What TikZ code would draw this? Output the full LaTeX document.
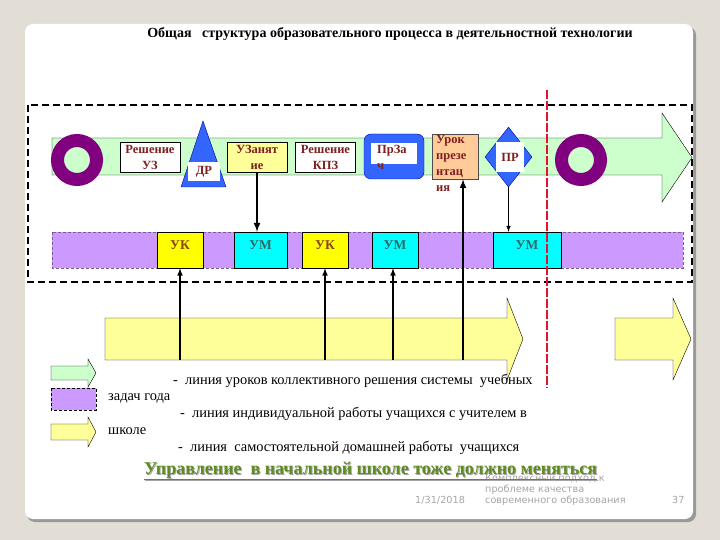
\documentclass[tikz,border=0pt]{standalone}
\usepackage{fontspec}
\setmainfont{Liberation Serif}
\newfontfamily\footfont{DejaVu Sans}
\usetikzlibrary{arrows,shapes.geometric}
\definecolor{slidebg}{HTML}{E3DED5}
\definecolor{bandgreen}{HTML}{CCFFCC}
\definecolor{lilac}{HTML}{CC99FF}
\definecolor{ringpurple}{HTML}{800080}
\definecolor{boxblue}{HTML}{3366FF}
\definecolor{uzyellow}{HTML}{FFFF99}
\definecolor{ukyellow}{HTML}{FFFF00}
\definecolor{umcyan}{HTML}{00FFFF}
\definecolor{lessonorange}{HTML}{FFCC99}
\definecolor{taskred}{HTML}{7F1F1F}
\definecolor{ukbrown}{HTML}{8B4513}
\definecolor{umteal}{HTML}{2F6B6B}
\definecolor{motto}{HTML}{5E8C1E}
\definecolor{footgray}{HTML}{A6A6A6}
\definecolor{cutred}{HTML}{E8112D}
\tikzstyle{task}=[draw,fill=white,inner sep=0pt,minimum width=60pt,minimum height=30pt]
\tikzstyle{tasktext}=[font=\bfseries\fontsize{12.5}{16}\selectfont,text=taskred,align=center,inner sep=0pt]
\tikzstyle{ring}=[circle,draw=ringpurple,line width=13pt,minimum size=39pt,inner sep=0pt]
\tikzstyle{slot}=[draw,inner sep=0pt,minimum height=36pt,text depth=10pt,font=\bfseries\fontsize{13.5}{15}\selectfont]
\tikzstyle{legendtext}=[anchor=base west,inner sep=0pt,font=\fontsize{14.4}{16}\selectfont]
\tikzstyle{foottext}=[anchor=base west,inner sep=0pt,text=footgray,font=\footfont\fontsize{9.7}{11}\selectfont]

\begin{document}
\begin{tikzpicture}[x=1pt,y=-1pt]
\fill[slidebg] (0,0) rectangle (720,540);
\fill[black!40,rounded corners=8pt] (27,27) rectangle (696,522);
\fill[white,rounded corners=8pt] (25,24) rectangle (693,519);

\node[font=\bfseries\fontsize{14}{16}\selectfont,anchor=base,inner sep=0pt] (title) at (390,38)
	{Общая \ \ структура образовательного процесса в деятельностной технологии};

% line of collective lessons
\draw[fill=bandgreen] (52,138) -- (662,138) -- (662,113) -- (692,157.5) -- (662,202)
	-- (662,175) -- (52,175) -- cycle;
\draw[line width=2pt,dash pattern=on 7pt off 4pt] (28,105) rectangle (692,282);

\node[ring] (ringL) at (77,160) {};
\node[ring] (ringR) at (581,160) {};

\node[task] (rUZ) at (150,157) {};
\node[tasktext,anchor=north] at (150,145) {Решение\\УЗ};

\draw[fill=boxblue,draw=blue!50!black] (203,121) -- (226,187) -- (181,187) -- cycle;
\node[tasktext,fill=white,minimum width=32pt,minimum height=19pt] (dr) at (204,171.5) {ДР};

\node[task,fill=uzyellow] (uzan) at (257,157) {};
\node[tasktext,anchor=north] at (257,145) {УЗанят\\ие};

\node[task] (rKPZ) at (325.5,157) {};
\node[tasktext,anchor=north] at (325.5,145) {Решение\\КПЗ};

\node[draw=blue!60!black,fill=boxblue,rounded corners=7pt,minimum width=60pt,minimum height=45pt,
	inner sep=0pt] (prza) at (394,156.5) {};
\node[fill=white,minimum width=46pt,minimum height=21pt,inner sep=0pt] (przaW) at (394,153.5) {};
\node[tasktext,align=left,anchor=north west] at (377,145) {ПрЗа\\ч};

\node[draw=black!70,fill=lessonorange,minimum width=46pt,minimum height=45pt,inner sep=0pt]
	(lesson) at (455,156.5) {};
\node[tasktext,align=left,anchor=north west] at (436,135) {Урок\\презе\\нтац\\ия};

\node[diamond,fill=boxblue,draw=blue!60!black,minimum width=47pt,minimum height=60pt,
	inner sep=0pt] (prD) at (508.5,157) {};
\node[tasktext,fill=white,minimum width=28pt,minimum height=30pt] (pr) at (510,157) {ПР};

% line of individual work
\draw[fill=lilac,draw=lilac!60!black,densely dashed,line width=0.6pt] (52,232) rectangle (683,268);
\node[slot,fill=ukyellow,text=ukbrown,minimum width=46pt] (uk1) at (180,250) {УК};
\node[slot,fill=umcyan,text=umteal,minimum width=53pt] (um1) at (260.5,250) {УМ};
\node[slot,fill=ukyellow,text=ukbrown,minimum width=46pt] (uk2) at (325,250) {УК};
\node[slot,fill=umcyan,text=umteal,minimum width=46pt] (um2) at (395,250) {УМ};
\node[slot,fill=umcyan,text=umteal,minimum width=68pt] (um3) at (527,250) {УМ};

\draw[-latex,line width=2pt] (uzan.south) -- (uzan.south |- um1.north);
\draw[-latex,line width=1pt] (prD.south) -- (prD.south |- um3.north);

% line of home work
\draw[fill=uzyellow] (105,318) -- (507,318) -- (507,298) -- (523,339) -- (507,380)
	-- (507,360) -- (105,360) -- cycle;
\draw[fill=uzyellow] (615,318) -- (673,318) -- (673,298) -- (691,339) -- (673,380)
	-- (673,360) -- (615,360) -- cycle;

\coordinate (h1) at (180,360);
\coordinate (h2) at (325,360);
\coordinate (h3) at (393,360);
\coordinate (h4) at (463,360);
\draw[-latex,line width=1.5pt] (h1) -- (h1 |- uk1.south);
\draw[-latex,line width=1.5pt] (h2) -- (h2 |- uk2.south);
\draw[-latex,line width=1.5pt] (h3) -- (h3 |- um2.south);
\draw[-latex,line width=2pt] (h4) -- (h4 |- lesson.south);

\draw[cutred,line width=1.5pt,dash pattern=on 9pt off 2pt] (547,90) -- (547,388);

% legend
\draw[fill=bandgreen] (51,366) -- (88,366) -- (88,359) -- (96,373) -- (88,387) -- (88,380)
	-- (51,380) -- cycle;
\draw[fill=lilac,densely dashed] (51,388) rectangle (96,410);
\draw[fill=uzyellow] (51,424) -- (88,424) -- (88,417) -- (96,432) -- (88,447) -- (88,440)
	-- (51,440) -- cycle;

\node[legendtext] (lg1) at (173,384) {- \ линия уроков коллективного решения системы \ учебных};
\node[legendtext] (lg1b) at (108,400) {задач года};
\node[legendtext] (lg2) at (180,417) {- \ линия индивидуальной работы учащихся с учителем в};
\node[legendtext] (lg2b) at (108,434) {школе};
\node[legendtext] (lg3) at (178,451) {- \ линия \ самостоятельной домашней работы \ учащихся};

\node[foottext] (ft1) at (485,481) {Комплексный подход к};
\node[foottext] (ft2) at (485,492) {проблеме качества};
\node[foottext] (ft3) at (485,503) {современного образования};
\node[foottext] (date) at (415,503) {1/31/2018};
\node[foottext] (page) at (672,503) {37};

\node[anchor=base west,inner sep=0pt,text=black!35,font=\bfseries\fontsize{18}{20}\selectfont]
	at (145,475) {\underline{Управление \ в начальной школе тоже должно меняться}};
\node[anchor=base west,inner sep=0pt,text=motto,font=\bfseries\fontsize{18}{20}\selectfont]
	(motto) at (144,474) {\underline{Управление \ в начальной школе тоже должно меняться}};

\end{tikzpicture}
\end{document}
